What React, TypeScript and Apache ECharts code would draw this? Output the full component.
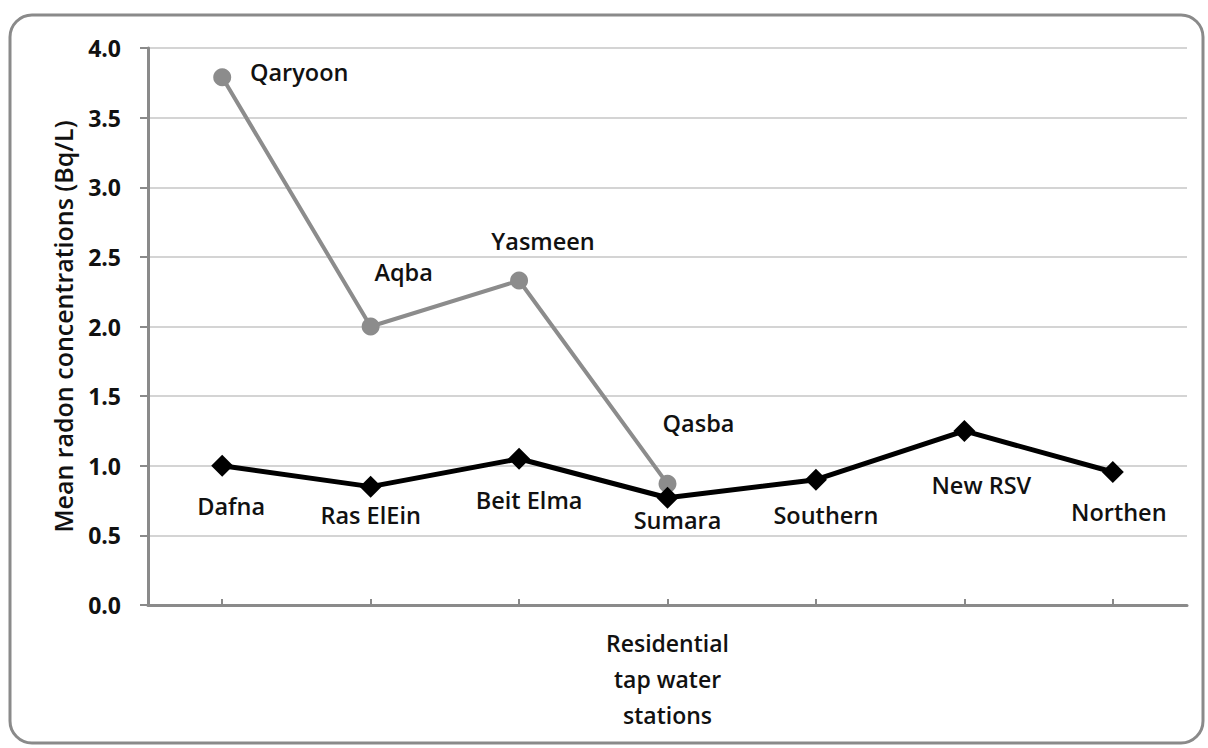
import React, { useEffect, useRef } from "react";
import * as echarts from "echarts";

const stations = ["Dafna", "Ras ElEin", "Beit Elma", "Sumara", "Southern", "New RSV", "Northen"];
const tapValues = [1.0, 0.85, 1.05, 0.77, 0.9, 1.25, 0.955];
const wellNames = ["Qaryoon", "Aqba", "Yasmeen", "Qasba"];
const wellValues = [3.79, 2.0, 2.33, 0.87];
const yTicks = [0, 0.5, 1.0, 1.5, 2.0, 2.5, 3.0, 3.5, 4.0];

// label layout (pixel offsets from the point)
const tapLabelOffsets = [[9, 40], [0, 28], [10, 41], [10, 22], [10, 35], [17, 54], [6, 40]];
const wellLabelOffsets = [[77, -5], [33, -55], [24, -40], [31, -61]];

const FONT = "'Open Sans', Lato, sans-serif";

export default function App() {
  const ref = useRef<HTMLDivElement>(null);
  useEffect(() => {
    document.body.style.margin = "0";
    const chart = echarts.init(ref.current!, null, { renderer: "svg" });
    const labelStyle = { color: "#111", fontSize: 23.5, fontFamily: FONT, fontWeight: 600 as any };
    chart.setOption({
      animation: false,
      backgroundColor: "#ffffff",
      textStyle: { fontFamily: FONT },
      graphic: [
        {
          type: "rect",
          shape: { x: 10, y: 15, width: 1193, height: 728, r: 22 },
          style: { fill: "none", stroke: "#8a8a8a", lineWidth: 3 },
          z: -1,
        },
      ],
      grid: { left: 148, top: 48, right: 21, bottom: 143 },
      xAxis: {
        type: "category",
        data: stations,
        boundaryGap: true,
        axisLine: { lineStyle: { color: "#8a8a8a", width: 3 } },
        axisTick: { show: true, inside: true, alignWithLabel: true, length: 6, lineStyle: { color: "#8a8a8a", width: 2 } },
        axisLabel: { show: false },
        splitLine: { show: false },
        name: "Residential\ntap water\nstations",
        nameLocation: "middle",
        nameGap: 20,
        nameTextStyle: {
          color: "#111",
          fontSize: 23,
          fontWeight: 600,
          fontFamily: FONT,
          lineHeight: 36,
          verticalAlign: "top",
        },
      },
      yAxis: {
        type: "value",
        min: yTicks[0],
        max: yTicks[yTicks.length - 1],
        interval: 0.5,
        axisLine: { show: true, lineStyle: { color: "#8a8a8a", width: 3 } },
        axisTick: { show: true, length: 8, lineStyle: { color: "#8a8a8a", width: 2 } },
        axisLabel: {
          color: "#111",
          fontSize: 23,
          fontWeight: "bold",
          fontFamily: FONT,
          margin: 27,
          formatter: (v: number) => v.toFixed(1),
        },
        splitLine: { lineStyle: { color: "#d4d4d4", width: 2 } },
        name: "Mean radon concentrations (Bq/L)",
        nameLocation: "middle",
        nameGap: 73,
        nameTextStyle: { color: "#111", fontSize: 25, fontWeight: 600, fontFamily: FONT },
      },
      series: [
        {
          type: "line",
          name: "Wells",
          z: 2,
          data: wellValues.map((v, i) => ({
            value: v,
            label: { offset: wellLabelOffsets[i] },
          })),
          symbol: "circle",
          symbolSize: 18,
          lineStyle: { color: "#8c8c8c", width: 4 },
          itemStyle: { color: "#8c8c8c" },
          label: {
            show: true,
            position: "inside",
            ...labelStyle,
            formatter: (p: any) => wellNames[p.dataIndex],
          },
        },
        {
          type: "line",
          name: "Tap",
          z: 3,
          data: tapValues.map((v, i) => ({
            value: v,
            label: { offset: tapLabelOffsets[i] },
          })),
          symbol: "diamond",
          symbolSize: 22,
          lineStyle: { color: "#000", width: 5 },
          itemStyle: { color: "#000" },
          label: {
            show: true,
            position: "inside",
            ...labelStyle,
            formatter: (p: any) => stations[p.dataIndex],
          },
        },
      ],
    });
    return () => chart.dispose();
  }, []);
  return <div ref={ref} style={{ width: 1208, height: 748 }} />;
}
